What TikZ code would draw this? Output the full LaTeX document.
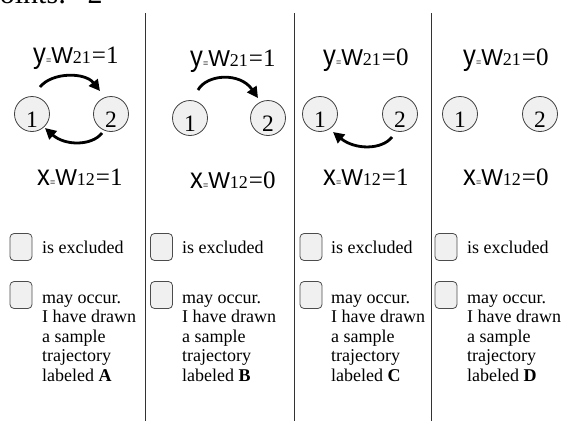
\documentclass[tikz,border=0pt]{standalone}
\usepackage{fontspec}
\setmainfont{Liberation Serif}
\setsansfont{Liberation Sans}
\usetikzlibrary{arrows.meta}
\newcommand\wlab[3]{{\sffamily\fontsize{27}{27}\selectfont\scalebox{0.95}[1.08]{#1}}{\sffamily\fontsize{9}{9}\selectfont =}{\sffamily\fontsize{23}{23}\selectfont W}{\rmfamily\fontsize{18}{18}\selectfont #2}\hspace{1pt}{\rmfamily\fontsize{25}{25}\selectfont =#3}}
\newcommand\stnum[1]{\raisebox{-13pt}[0pt][0pt]{\rmfamily #1}}
\begin{document}
\begin{tikzpicture}[x=1pt,y=1pt,
  state/.style={circle, draw=black!75, line width=0.8pt, fill=black!6, minimum size=35pt, inner sep=0pt, font=\rmfamily\fontsize{23.5}{23.5}\selectfont},
  flow/.style={line width=2.8pt, -{Triangle[length=11pt,width=11pt]}},
  wlabel/.style={anchor=base west, inner sep=0pt},
  chk/.style={draw=black!70, line width=0.8pt, fill=black!6, rounded corners=4pt, minimum width=22pt, minimum height=27pt, inner sep=0pt},
  txt/.style={anchor=base west, inner sep=0pt, font=\fontsize{18}{19.5}\selectfont},
  mtxt/.style={anchor=north west, inner sep=0pt, align=left, font=\fontsize{18}{19.5}\selectfont},
  divider/.style={draw=black!80, line width=0.9pt}]
\useasboundingbox (0,0) rectangle (566,-421);
% clipped heading at the top
\begin{scope}
\clip (0,0) rectangle (566,-421);
\node[anchor=base west, inner sep=0pt, font=\fontsize{30}{30}\selectfont] (head) at (-17,-3.5) {Points:\hspace{21pt}2};
\end{scope}
% dividers
\draw[divider] (145,-13) -- (145,-421);
\draw[divider] (294,-13) -- (294,-421);
\draw[divider] (431,-13) -- (431,-421);
% panel 1
\node[wlabel] (p1y) at (33,-63) {\wlab{y}{21}{1}};
\node[wlabel] (p1x) at (37,-185) {\wlab{x}{12}{1}};
\node[state] (p1a) at (32,-114) {\stnum{1}};
\node[state] (p1b) at (111,-114) {\stnum{2}};
\coordinate (p1s) at (40,-87);
\coordinate (p1e) at (100,-91);
\draw[flow] (p1s) .. controls (52,-72) and (85,-72) .. (p1e);
\coordinate (p1s2) at (102,-133);
\coordinate (p1e2) at (45,-128);
\draw[flow] (p1s2) .. controls (92,-146) and (65,-146) .. (p1e2);
% panel 2
\node[wlabel] (p2y) at (190,-66) {\wlab{y}{21}{1}};
\node[wlabel] (p2x) at (190,-188) {\wlab{x}{12}{0}};
\node[state] (p2a) at (190,-118) {\stnum{1}};
\node[state] (p2b) at (268,-118) {\stnum{2}};
\coordinate (p2s) at (198,-90);
\coordinate (p2e) at (258,-98);
\draw[flow] (p2s) .. controls (207,-74) and (240,-72) .. (p2e);
% panel 3
\node[wlabel] (p3y) at (323,-65) {\wlab{y}{21}{0}};
\node[wlabel] (p3x) at (323,-185) {\wlab{x}{12}{1}};
\node[state] (p3a) at (320,-114) {\stnum{1}};
\node[state] (p3b) at (400,-114) {\stnum{2}};
\coordinate (p3s) at (392,-137);
\coordinate (p3e) at (333,-132);
\draw[flow] (p3s) .. controls (382,-150) and (355,-150) .. (p3e);
% panel 4
\node[wlabel] (p4y) at (463,-65) {\wlab{y}{21}{0}};
\node[wlabel] (p4x) at (463,-185) {\wlab{x}{12}{0}};
\node[state] (p4a) at (460,-114) {\stnum{1}};
\node[state] (p4b) at (540,-114) {\stnum{2}};
% check boxes and texts
\node[chk] (b1a) at (21,-247) {};
\node[chk] (b1b) at (21,-295) {};
\node[txt] (t1a) at (42,-253) {is excluded};
\node[mtxt] (t1b) at (42,-289.5) {\strut may occur.\\I have drawn\\a sample\\trajectory\\labeled \textbf{A}};
\node[chk] (b2a) at (161.5,-247) {};
\node[chk] (b2b) at (161.5,-295) {};
\node[txt] (t2a) at (182,-253) {is excluded};
\node[mtxt] (t2b) at (182,-289.5) {\strut may occur.\\I have drawn\\a sample\\trajectory\\labeled \textbf{B}};
\node[chk] (b3a) at (311,-247) {};
\node[chk] (b3b) at (311,-295) {};
\node[txt] (t3a) at (331,-253) {is excluded};
\node[mtxt] (t3b) at (331,-289.5) {\strut may occur.\\I have drawn\\a sample\\trajectory\\labeled \textbf{C}};
\node[chk] (b4a) at (446,-247) {};
\node[chk] (b4b) at (446,-295) {};
\node[txt] (t4a) at (467,-253) {is excluded};
\node[mtxt] (t4b) at (467,-289.5) {\strut may occur.\\I have drawn\\a sample\\trajectory\\labeled \textbf{D}};
\end{tikzpicture}
\end{document}
